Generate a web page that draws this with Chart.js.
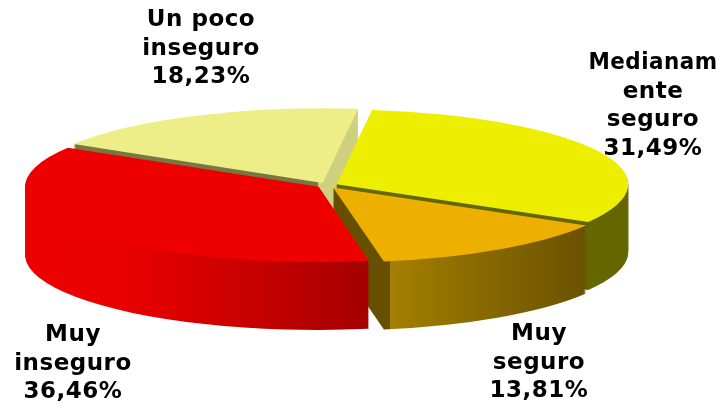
<!DOCTYPE html>
<html lang="es">

<head>
    <meta charset="UTF-8">
    <title>Sensación de seguridad</title>
    <script src="https://cdn.jsdelivr.net/npm/chart.js"></script>
    <style>
        html, body { margin: 0; padding: 0; background: #fff; }
        canvas { display: block; }
    </style>
</head>

<body>
    <canvas id="pie3d" width="721" height="408"></canvas>

    <script>
        // Datos
        const categorias = ['Medianamente seguro', 'Muy seguro', 'Muy inseguro', 'Un poco inseguro'];
        const valores = [31.49, 13.81, 36.46, 18.23];
        const etiquetas = [
            ['Medianam', 'ente', 'seguro'],
            ['Muy', 'seguro'],
            ['Muy', 'inseguro'],
            ['Un poco', 'inseguro']
        ];

        // Colores y posicion
        const coresTopo = ['#eeee00', '#eeb000', '#ee0000', '#eeee88'];
        const centroEtiquetas = [[653, 63], [539, 334], [73, 335], [201, 20]];
        const alturaLinha = 28.7;
        const centroX = 327.2, centroY = 185.3, raioX = 291, raioY = 74.5, profundidade = 68;
        const ordemDesenho = [3, 0, 1, 2]; // de tras para frente

        // cada parada: x na tela, cor
        const paredes = [
            [[0, '#666600'], [721, '#666600']],
            [[0, '#665000'], [384, '#665000'], [384, '#a47f00'], [585, '#685000'], [721, '#685000']],
            [[0, '#ee0000'], [130, '#ea0000'], [260, '#c80000'], [368, '#a60000'], [721, '#a60000']],
            [[0, '#777744'], [322, '#777744'], [322, '#cfcf80'], [721, '#cfcf80']]
        ];

        function desenharFatia(ctx, arco, cor, desloc, sx, sy) {
            const original = arco.options;
            arco.options = Object.assign({}, original, { backgroundColor: cor, borderWidth: 0 });
            ctx.save();
            ctx.translate(centroX, centroY + desloc);
            ctx.scale(sx, sy);
            ctx.translate(-arco.x, -arco.y);
            arco.draw(ctx);
            ctx.restore();
            arco.options = original;
        }

        const pizza3d = {
            id: 'pizza3d',
            beforeDatasetsDraw(chart) {
                const ctx = chart.ctx;
                const arcos = chart.getDatasetMeta(0).data;
                const sx = raioX / arcos[0].outerRadius;
                const sy = raioY / arcos[0].outerRadius;

                ordemDesenho.forEach(i => {
                    const arco = arcos[i];
                    const grad = ctx.createLinearGradient(arco.x - centroX / sx, 0, arco.x + (721 - centroX) / sx, 0);
                    paredes[i].forEach(p => grad.addColorStop(p[0] / 721, p[1]));
                    for (let d = profundidade; d > 0; d--) {
                        desenharFatia(ctx, arco, grad, d, sx, sy);
                    }
                    desenharFatia(ctx, arco, coresTopo[i], 0, sx, sy);
                });
                return false; // ja desenhado aqui
            },
            afterDraw(chart) {
                const ctx = chart.ctx;
                ctx.save();
                ctx.fillStyle = '#000';
                ctx.font = 'bold 23px "DejaVu Sans"';
                ctx.letterSpacing = '0.5px';
                ctx.textAlign = 'center';
                ctx.textBaseline = 'middle';
                etiquetas.forEach((linhas, i) => {
                    const texto = linhas.concat(valores[i].toFixed(2).replace('.', ',') + '%');
                    texto.forEach((t, n) => {
                        ctx.fillText(t, centroEtiquetas[i][0], centroEtiquetas[i][1] + n * alturaLinha, 129);
                    });
                });
                ctx.restore();
            }
        };

        new Chart(document.getElementById('pie3d').getContext('2d'), {
            type: 'pie',
            data: {
                labels: categorias,
                datasets: [{
                    data: valores,
                    backgroundColor: coresTopo,
                    borderWidth: 0,
                    offset: 27
                }]
            },
            options: {
                responsive: false,
                animation: false,
                rotation: 7,
                plugins: {
                    legend: { display: false },
                    tooltip: { enabled: false }
                }
            },
            plugins: [pizza3d]
        });
    </script>
</body>

</html>
